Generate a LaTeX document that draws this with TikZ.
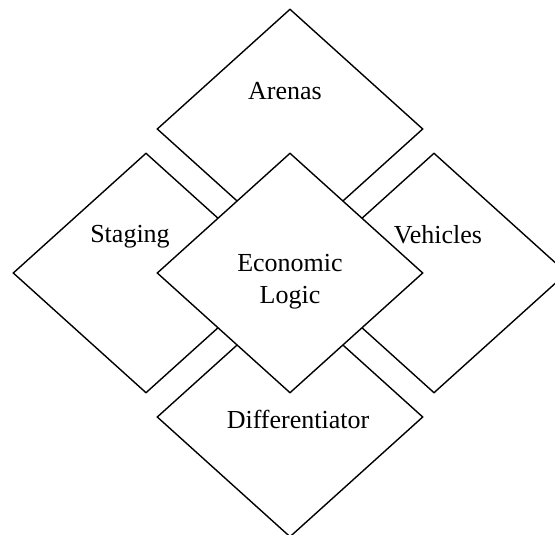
\documentclass[tikz,border=0pt]{standalone}
\usepackage{fontspec}
\setmainfont{Liberation Serif}
\usetikzlibrary{shapes.geometric}
\begin{document}
\begin{tikzpicture}[x=1pt,y=-1pt,
  facet/.style={diamond,draw=black,fill=white,line width=1.4pt,
    minimum width=266pt,minimum height=240pt,inner sep=0pt},
  caption/.style={inner sep=0pt,font=\fontsize{26}{32}\selectfont,align=center}]
  \useasboundingbox (0,0) rectangle (555,535);
  % four outer facets
  \node[facet] (arenas) at (290,129) {};
  \node[facet] (staging) at (146,273) {};
  \node[facet] (vehicles) at (434,273) {};
  \node[facet] (diff) at (290,417) {};
  % core facet laid over the others
  \node[facet] (core) at (290,273) {};
  % labels
  \node[caption,anchor=base] (tA) at (285,100) {Arenas};
  \node[caption,anchor=base] (tS) at (130,242) {Staging};
  \node[caption,anchor=base] (tV) at (438,243) {Vehicles};
  \node[caption] (tE) at (290,282) {Economic\\Logic};
  \node[caption,anchor=base] (tD) at (298,428) {Differentiator};
\end{tikzpicture}
\end{document}
